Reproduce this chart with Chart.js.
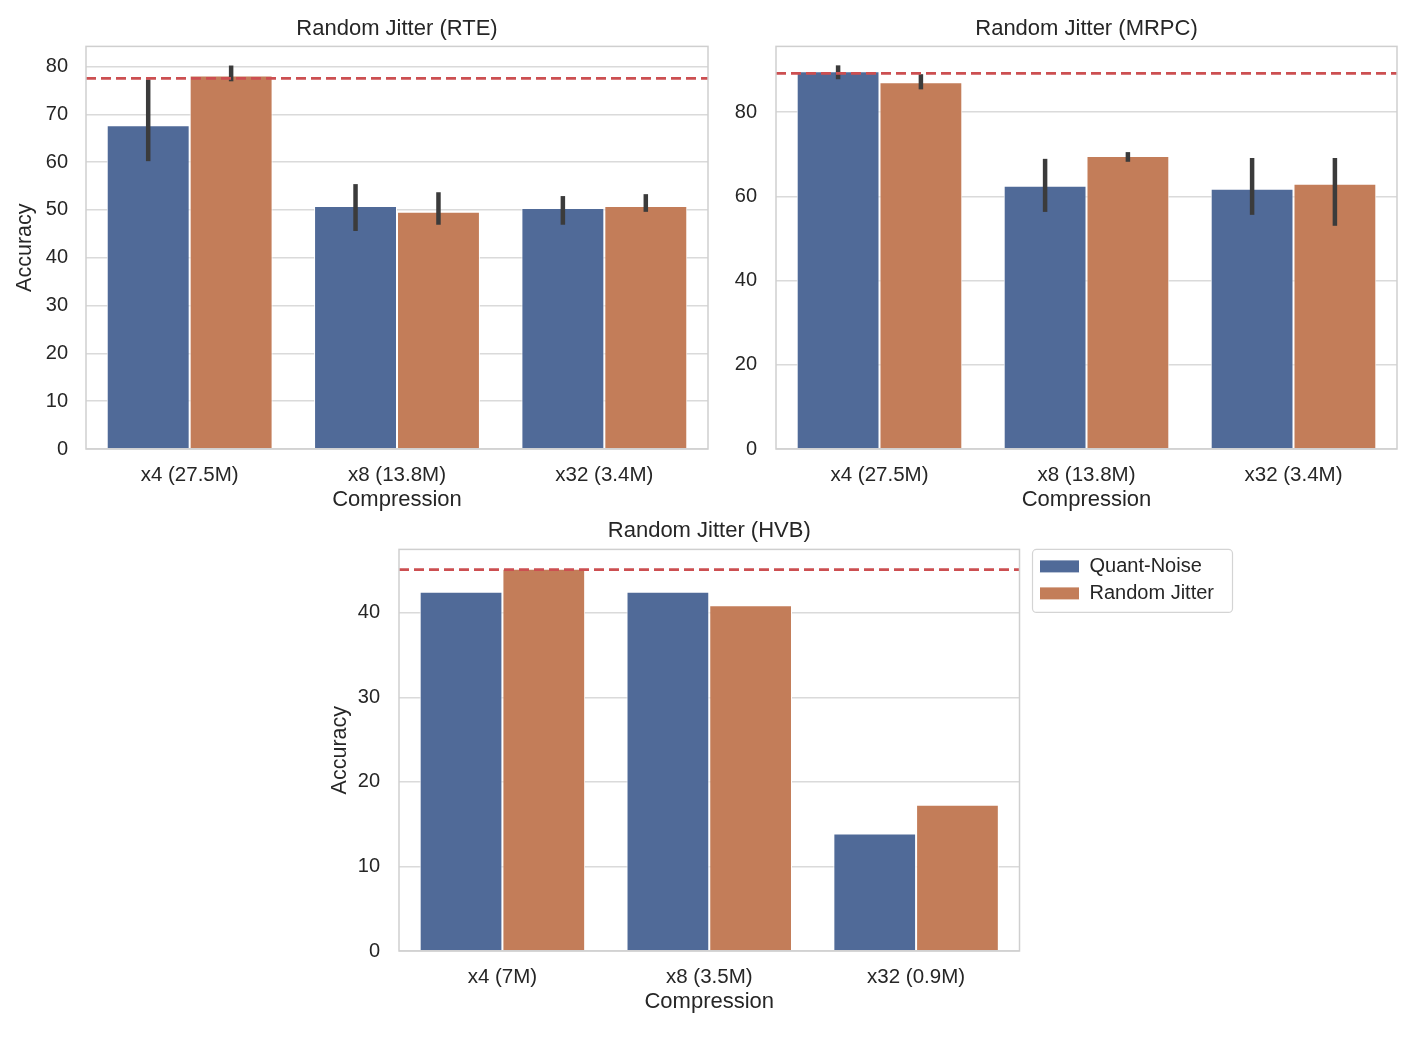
<!DOCTYPE html>
<html lang="en">
<head>
  <meta charset="UTF-8">
  <title>Random Jitter</title>
  <script src="https://cdn.jsdelivr.net/npm/chart.js"></script>
  <style>
    body { margin: 0; background: #fff; }
    .box { position: absolute; }
  </style>
</head>
<body>
  <div class="box" style="left:0;top:0;width:720px;height:520px"><canvas id="rte"></canvas></div>
  <div class="box" style="left:700px;top:0;width:710px;height:520px"><canvas id="mrpc"></canvas></div>
  <div class="box" style="left:300px;top:500px;width:946px;height:522px"><canvas id="hvb"></canvas></div>

  <script>
    // RTE
    const rteLabels = ["x4 (27.5M)", "x8 (13.8M)", "x32 (3.4M)"];
    const rteQuant = [67.7, 50.8, 50.4];
    const rteJitter = [78.1, 49.6, 50.8];
    const rteQuantLo = [60.2, 45.6, 46.9];
    const rteQuantHi = [77.3, 55.4, 52.9];
    const rteJitterLo = [76.9, 46.9, 49.6];
    const rteJitterHi = [80.2, 53.7, 53.3];
    const rteBaseline = 77.5;

    // MRPC
    const mrpcLabels = ["x4 (27.5M)", "x8 (13.8M)", "x32 (3.4M)"];
    const mrpcQuant = [89.7, 62.5, 61.8];
    const mrpcJitter = [87.1, 69.6, 63.0];
    const mrpcQuantLo = [87.8, 56.3, 55.6];
    const mrpcQuantHi = [91.1, 68.9, 69.1];
    const mrpcJitterLo = [85.4, 68.2, 53.0];
    const mrpcJitterHi = [89.0, 70.5, 69.1];
    const mrpcBaseline = 89.2;

    // HVB (no error bars)
    const hvbLabels = ["x4 (7M)", "x8 (3.5M)", "x32 (0.9M)"];
    const hvbQuant = [42.5, 42.5, 13.9];
    const hvbJitter = [45.2, 40.9, 17.3];
    const hvbBaseline = 45.1;

    const BLUE = "#506a98";
    const ORANGE = "#c37d59";
    const FONT = "'Liberation Sans', Arial, sans-serif";
    const TXT = "#262626";

    // frame round the plot, red dashed baseline, black error bars, legend box
    const extras = {
      id: "extras",
      afterLayout(chart, args, opts) {
        // small gap between the plot and the legend
        const lg = chart.legend;
        if (lg && lg.options.display && opts.legendShift) {
          lg.left += opts.legendShift;
          lg.right += opts.legendShift;
        }
      },
      beforeDraw(chart) {
        const lg = chart.legend;
        if (!lg || !lg.options.display) return;
        const ctx = chart.ctx;
        const x0 = lg.left, y0 = chart.chartArea.top;
        ctx.save();
        ctx.strokeStyle = "#d4d4d4";
        ctx.lineWidth = 1.2;
        ctx.beginPath();
        ctx.roundRect(x0, y0, 200, 63, 4);
        ctx.stroke();
        ctx.restore();
      },
      afterDatasetsDraw(chart, args, opts) {
        const { ctx, chartArea: a, scales } = chart;
        ctx.save();
        // error bars
        (opts.errors || []).forEach((err, di) => {
          if (!err) return;
          const meta = chart.getDatasetMeta(di);
          ctx.strokeStyle = "#3b3b3b";
          ctx.lineWidth = 4.5;
          meta.data.forEach((bar, i) => {
            ctx.beginPath();
            ctx.moveTo(bar.x, scales.y.getPixelForValue(err.lo[i]));
            ctx.lineTo(bar.x, scales.y.getPixelForValue(err.hi[i]));
            ctx.stroke();
          });
        });
        // baseline
        const yb = scales.y.getPixelForValue(opts.baseline);
        ctx.strokeStyle = "#cc4f51";
        ctx.lineWidth = 2.8;
        ctx.setLineDash([10, 5]);
        ctx.beginPath();
        ctx.moveTo(a.left, yb);
        ctx.lineTo(a.right, yb);
        ctx.stroke();
        ctx.setLineDash([]);
        // frame
        ctx.strokeStyle = "#cfcfcf";
        ctx.lineWidth = 1.5;
        ctx.strokeRect(a.left, a.top, a.right - a.left, a.bottom - a.top);
        ctx.restore();
      }
    };

    function makeChart(id, p) {
      return new Chart(document.getElementById(id), {
        type: "bar",
        data: {
          labels: p.labels,
          datasets: [
            { label: "Quant-Noise", data: p.quant, backgroundColor: BLUE,
              borderColor: "#ffffff", borderWidth: 1,
              categoryPercentage: 0.8, barPercentage: 1.0 },
            { label: "Random Jitter", data: p.jitter, backgroundColor: ORANGE,
              borderColor: "#ffffff", borderWidth: 1,
              categoryPercentage: 0.8, barPercentage: 1.0 }
          ]
        },
        options: {
          responsive: true,
          maintainAspectRatio: false,
          animation: false,
          layout: { padding: { left: 0, right: p.padRight, top: 0, bottom: 0 } },
          scales: {
            x: {
              grid: { display: false },
              border: { display: false },
              ticks: { color: TXT, font: { family: FONT, size: 20.5 }, padding: 6 },
              title: { display: true, text: "Compression", color: TXT,
                       font: { family: FONT, size: 22 }, padding: { top: 0, bottom: 7 } },
              afterFit: s => { s.height = 71; }
            },
            y: {
              min: 0, max: p.max,
              grid: { color: "#dadada", lineWidth: 1.5, drawTicks: false },
              border: { display: false },
              ticks: { stepSize: p.step, includeBounds: false, color: TXT,
                       font: { family: FONT, size: 20 }, padding: p.tickPad },
              title: { display: !!p.yTitle, text: "Accuracy", color: TXT,
                       font: { family: FONT, size: 21.5 }, padding: { top: p.yTitlePad, bottom: 0 } },
              afterFit: s => { s.width = p.yWidth; }
            }
          },
          plugins: {
            title: { display: true, text: p.title, color: TXT, fullSize: false,
                     font: { family: FONT, size: 22, weight: "normal" },
                     padding: { top: p.titleTop, bottom: p.titleBottom } },
            legend: {
              display: !!p.legend, position: "right", align: "start", fullSize: false,
              labels: { boxWidth: 40, boxHeight: 13, padding: 7, color: TXT,
                        font: { family: FONT, size: 20 } }
            },
            tooltip: { enabled: false },
            extras: { baseline: p.baseline, errors: p.errors || [], legendShift: p.legend ? 13 : 0 }
          }
        },
        plugins: [extras]
      });
    }

    makeChart("rte", {
      title: "Random Jitter (RTE)", labels: rteLabels, quant: rteQuant, jitter: rteJitter,
      errors: [{ lo: rteQuantLo, hi: rteQuantHi }, { lo: rteJitterLo, hi: rteJitterHi }],
      baseline: rteBaseline, max: 84.2, step: 10,
      yTitle: true, yTitlePad: 12, yWidth: 86, tickPad: 18, padRight: 12,
      titleTop: 16, titleBottom: 4
    });

    makeChart("mrpc", {
      title: "Random Jitter (MRPC)", labels: mrpcLabels, quant: mrpcQuant, jitter: mrpcJitter,
      errors: [{ lo: mrpcQuantLo, hi: mrpcQuantHi }, { lo: mrpcJitterLo, hi: mrpcJitterHi }],
      baseline: mrpcBaseline, max: 95.6, step: 20,
      yTitle: false, yTitlePad: 0, yWidth: 76, tickPad: 19, padRight: 13,
      titleTop: 16, titleBottom: 4
    });

    makeChart("hvb", {
      title: "Random Jitter (HVB)", labels: hvbLabels, quant: hvbQuant, jitter: hvbJitter,
      baseline: hvbBaseline, max: 47.5, step: 10, legend: true,
      yTitle: true, yTitlePad: 27, yWidth: 99, tickPad: 19, padRight: 35,
      titleTop: 18, titleBottom: 5
    });
  </script>
</body>
</html>
